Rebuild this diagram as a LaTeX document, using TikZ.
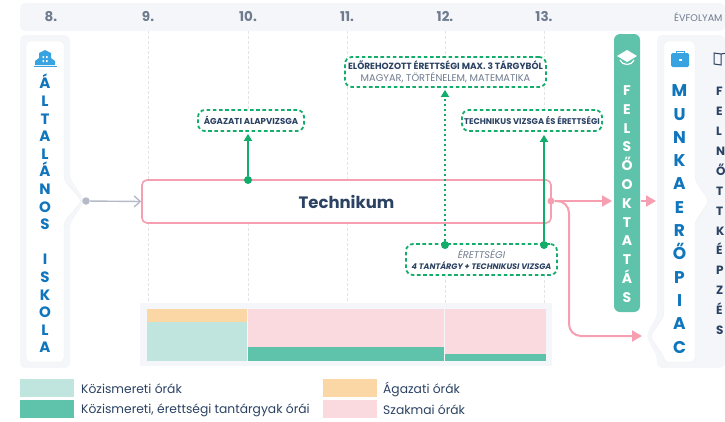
\documentclass[tikz,border=0pt]{standalone}
\usepackage{fontspec}
\setmainfont{Poppins}
\usepackage{xcolor}
\usetikzlibrary{arrows.meta}
\definecolor{sheetgray}{HTML}{F4F6F9}
\definecolor{navytext}{HTML}{2B4263}
\definecolor{graytext}{HTML}{6F7B8E}
\definecolor{schoolblue}{HTML}{0F75BD}
\definecolor{iconblue}{HTML}{37A3E0}
\definecolor{examgreen}{HTML}{12AD6B}
\definecolor{tealbar}{HTML}{5FC2AA}
\definecolor{mintbar}{HTML}{C0E5DE}
\definecolor{orangebar}{HTML}{FBD7A5}
\definecolor{pinkbar}{HTML}{FAD9DF}
\definecolor{pinkline}{HTML}{F59FB0}
\definecolor{gridgray}{HTML}{E2E4E8}
\definecolor{arrowgray}{HTML}{B4BAC6}
\tikzset{
  yearlabel/.style={text=graytext,font=\fontsize{13.5}{16}\selectfont\bfseries},
  gridline/.style={draw=gridgray,densely dashed,line width=.5pt},
  sheet/.style={fill=sheetgray,rounded corners=5pt},
  card/.style={fill=white,draw=gridgray!60,line width=.4pt,rounded corners=4pt},
  stack/.style={align=center,inner sep=0pt,text=schoolblue,font=\fontsize{15}{17.6}\selectfont\bfseries},
  exam/.style={draw=examgreen,fill=white,line width=1.8pt,dash pattern=on 3.6pt off 2.6pt,rounded corners=7pt,
    inner sep=0pt,align=center,text=navytext,font=\fontsize{8.6}{11.5}\selectfont\bfseries},
  examdot/.style={circle,fill=examgreen,inner sep=0pt,minimum size=8pt},
  examarrow/.style={draw=examgreen,line width=2pt,-{Triangle[length=7pt,width=8pt]}},
  pinkarrow/.style={draw=pinkline,line width=2pt,rounded corners=12pt,-{Triangle[length=10pt,width=11pt]}},
  legendtext/.style={anchor=west,inner sep=0pt,text=navytext,font=\fontsize{12.3}{14}\selectfont},
  legendbox/.style={inner sep=0pt,minimum width=54pt,minimum height=17.5pt},
}
\begin{document}
\begin{tikzpicture}[x=1pt,y=-1pt]
  \useasboundingbox (0,0) rectangle (725,421);
  % year header
  \fill[sheet] (20,3) rectangle (725,31);
  \node[yearlabel] (y8) at (51,17) {8.};
  \node[yearlabel] (y9) at (148,17) {9.};
  \node[yearlabel] (y10) at (248,17) {10.};
  \node[yearlabel] (y11) at (347,17) {11.};
  \node[yearlabel] (y12) at (445,17) {12.};
  \node[yearlabel] (y13) at (544,17) {13.};
  \node[anchor=west,inner sep=0pt,text=graytext,font=\fontsize{9.6}{11}\selectfont] (yname) at (674,17) {ÉVFOLYAM};
  % grid lines
  \draw[gridline] (148,31) -- (148,180) (148,223) -- (148,303);
  \draw[gridline] (248,31) -- (248,110) (248,223) -- (248,303);
  \draw[gridline] (347,31) -- (347,57) (347,87) -- (347,180) (347,223) -- (347,303);
  \draw[gridline] (445,31) -- (445,57) (445,275) -- (445,303);
  \draw[gridline] (544,31) -- (544,57) (544,87) -- (544,110) (544,275) -- (544,303);
  % left column
  \fill[sheet] (20,35) -- (70,35) -- (70,178) -- (85,201) -- (70,224) -- (70,368) -- (20,368) -- cycle;
  \draw[card] (26,41) -- (64,41) -- (64,180) -- (82,201) -- (64,222) -- (64,362) -- (26,362) -- cycle;
  \fill[iconblue] (35,65) -- (35,61) -- (39,58) -- (39,53) -- (45,50) -- (51,53) -- (51,58) -- (55,61) -- (55,65) -- cycle;
  \fill[white] (42.5,56) rectangle (44,58) (46,56) rectangle (47.5,58) (42.5,60) rectangle (44,62) (46,60) rectangle (47.5,62);
  \draw[iconblue,line width=.8pt] (34,66) -- (57,66);
  \node[stack] (school) at (45,213.5) {Á\\L\\T\\A\\L\\Á\\N\\O\\S\\[17.6pt]I\\S\\K\\O\\L\\A};
  % higher education bar
  \fill[tealbar,rounded corners=6pt] (614,34) rectangle (640,312);
  \fill[white] (617,56) -- (627,50) -- (637,56) -- (627,62) -- cycle;
  \draw[white,line width=1.2pt] (620,60) .. controls (622,66) and (632,66) .. (634,60);
  \node[stack,text=white,font=\fontsize{14}{18.8}\selectfont\bfseries] (higher) at (627,194) {F\\E\\L\\S\\Ő\\O\\K\\T\\A\\T\\Á\\S};
  % labour market column
  \fill[sheet] (657,35) -- (725,35) -- (725,368) -- (657,368) -- (657,357) -- (646,336) -- (657,315) -- cycle;
  \draw[card] (664,41) -- (695,41) -- (695,180) -- (709,201) -- (695,222) -- (695,362) -- (664,362) -- (664,357) -- (650,336) -- (664,316) -- cycle;
  \fill[iconblue,rounded corners=1.5pt] (671,53) rectangle (689,67);
  \draw[iconblue,line width=1pt] (676,53) -- (676,51) -- (684,51) -- (684,53);
  \fill[white] (678.5,59) rectangle (681.5,60.5);
  \node[stack,font=\fontsize{17}{23.3}\selectfont\bfseries] (market) at (679.5,219) {M\\U\\N\\K\\A\\E\\R\\Ő\\P\\I\\A\\C};
  \draw[navytext,line width=1pt] (714,53) -- (721,54) -- (721,65) -- (714,64) -- cycle (721,54) -- (727,53);
  \node[inner sep=0pt,anchor=west,text=navytext,align=left,font=\fontsize{12}{19.9}\selectfont\bfseries] (jobs) at (716,211) {F\\E\\L\\N\\Ő\\T\\T\\K\\É\\P\\Z\\É\\S};
  % school type
  \node[draw=pinkline,line width=1.6pt,rounded corners=5pt,minimum width=409pt,minimum height=43pt,inner sep=0pt,
    text=navytext,font=\fontsize{16.5}{20}\selectfont\bfseries] (technikum) at (346.5,201.5) {Technikum};
  \node[circle,fill=arrowgray,inner sep=0pt,minimum size=7.5pt] (start) at (86,201) {};
  \draw[arrowgray,line width=1.4pt,-{Straight Barb[length=6pt,width=11pt]}] (start) -- (technikum.west);
  % exams
  \node[exam,minimum width=106pt,minimum height=21pt] (alapvizsga) at (251,120.5) {ÁGAZATI ALAPVIZSGA};
  \node[exam,font=\fontsize{9}{12}\selectfont\bfseries,minimum width=201pt,minimum height=30pt] (elorehozott) at (445.5,72) {ELŐREHOZOTT ÉRETTSÉGI MAX. 3 TÁRGYBÓL\\{\fontsize{9.8}{12}\selectfont\mdseries\color{graytext}MAGYAR, TÖRTÉNELEM, MATEMATIKA}};
  \node[exam,font=\fontsize{8.3}{11}\selectfont\bfseries,minimum width=140pt,minimum height=21pt] (techvizsga) at (532,120.5) {TECHNIKUS VIZSGA ÉS ÉRETTSÉGI};
  \node[exam,font=\fontsize{8}{11}\selectfont\bfseries,minimum width=151pt,minimum height=31pt] (erettsegi) at (481.5,259.5) {{\fontsize{9.8}{11}\selectfont\mdseries\itshape\color{graytext}ÉRETTSÉGI}\\\itshape 4 TANTÁRGY + TECHNIKUSI VIZSGA};
  \node[examdot] (dotalap) at (248,180) {};
  \node[examdot] (dotelo) at (445,245) {};
  \node[examdot] (dottech) at (544,245) {};
  \draw[examarrow] (dotalap) -- ([yshift=-2pt]dotalap |- alapvizsga.south);
  \draw[examarrow,dash pattern=on 2pt off 3pt] (dotelo) -- ([yshift=-2pt]dotelo |- elorehozott.south);
  \draw[examarrow] (dottech) -- ([yshift=-3pt]dottech |- techvizsga.south);
  % outputs
  \node[circle,fill=pinkline,inner sep=0pt,minimum size=7pt] (dotout) at (551,201) {};
  \coordinate (higherin) at (612,201);
  \coordinate (marketin) at (656,201);
  \coordinate (higherout) at (641,201);
  \coordinate (marketlow) at (642,336);
  \draw[pinkarrow] (dotout) -- (higherin);
  \draw[pinkarrow] (higherout) -- (marketin);
  \draw[pinkarrow] (dotout) -- (569,201) -- (569,336) -- (marketlow);
  % hours chart
  \fill[sheetgray] (140,303) rectangle (552,366);
  \fill[orangebar] (147,309) rectangle (247,322);
  \fill[mintbar] (147,322) rectangle (247,361);
  \fill[pinkbar] (248,309) rectangle (444,347);
  \fill[tealbar] (248,347) rectangle (444,361);
  \fill[pinkbar] (445,309) rectangle (545.5,354);
  \fill[tealbar] (445,354) rectangle (545.5,361);
  % legend
  \node[legendbox,fill=mintbar] (keymint) at (47,388) {};
  \node[legendbox,fill=tealbar] (keyteal) at (47,409) {};
  \node[legendbox,fill=orangebar] (keyorange) at (350,388) {};
  \node[legendbox,fill=pinkbar] (keypink) at (350,409) {};
  \node[legendtext] (txtmint) at (81,389) {Közismereti órák};
  \node[legendtext] (txtteal) at (81,410) {Közismereti, érettségi tantárgyak órái};
  \node[legendtext] (txtorange) at (383,389) {Ágazati órák};
  \node[legendtext] (txtpink) at (383,410) {Szakmai órák};
\end{tikzpicture}
\end{document}
